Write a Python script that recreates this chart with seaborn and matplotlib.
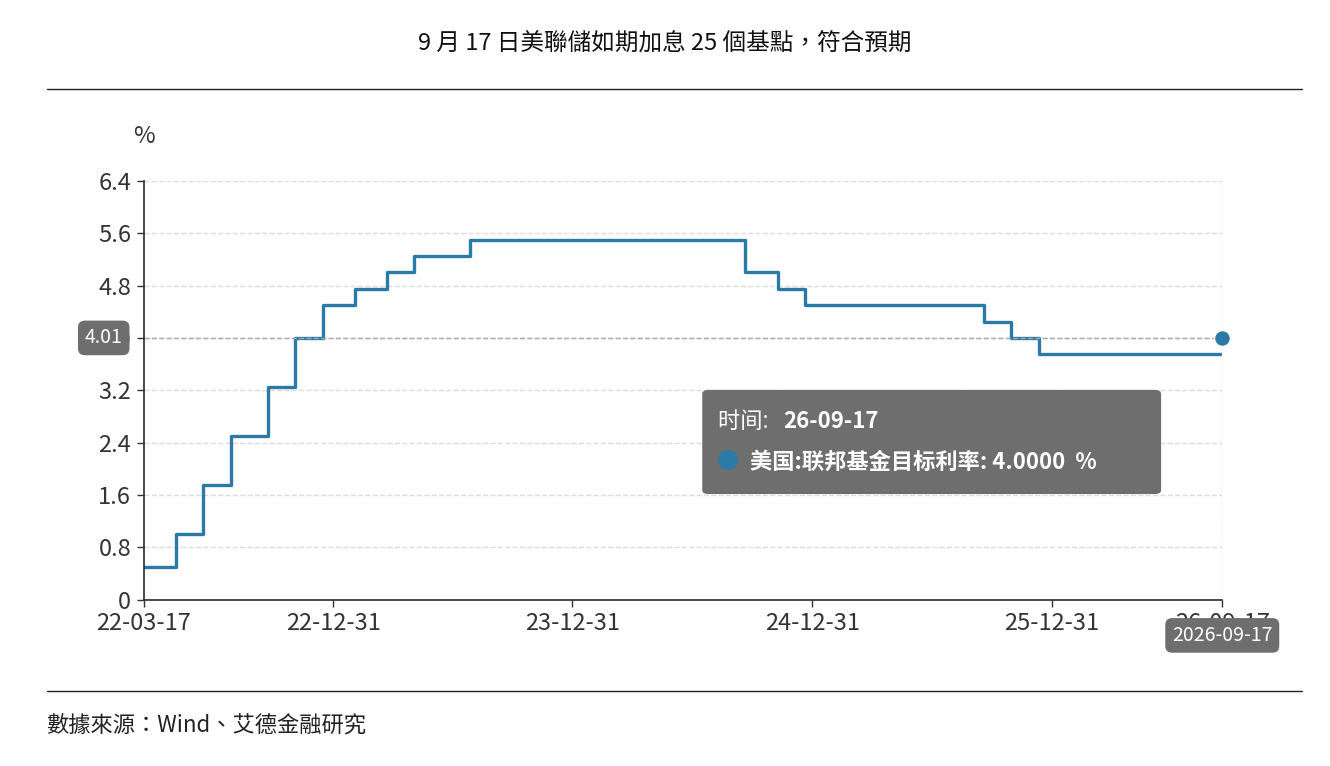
import matplotlib
matplotlib.use("Agg")
import matplotlib.pyplot as plt
import seaborn as sns
import pandas as pd

dates = ["2022-03-17","2022-05-05","2022-06-16","2022-07-28","2022-09-22","2022-11-03",
         "2022-12-15","2023-02-02","2023-03-23","2023-05-04","2023-07-27","2024-09-19",
         "2024-11-08","2024-12-19","2025-09-18","2025-10-30","2025-12-11","2026-09-17"]
rates = [0.50,1.00,1.75,2.50,3.25,4.00,4.50,4.75,5.00,5.25,5.50,5.00,4.75,4.50,4.25,4.00,3.75,3.75]
tick_dates = ["2022-03-17","2022-12-31","2023-12-31","2024-12-31","2025-12-31","2026-09-17"]
tick_labels = ["22-03-17","22-12-31","23-12-31","24-12-31","25-12-31","26-09-17"]
yticks = [0,0.8,1.6,2.4,3.2,4.0,4.8,5.6,6.4]
ylabels = ["0","0.8","1.6","2.4","3.2","4.0","4.8","5.6","6.4"]
hover_date = "2026-09-17"
hover_val = 4.0

sns.set_theme(style="white")
plt.rcParams['font.family'] = ['Noto Sans CJK TC', 'DejaVu Sans']

df = pd.DataFrame({"date": pd.to_datetime(dates), "rate": rates})
fig = plt.figure(figsize=(13.3, 7.66), dpi=100)
ax = fig.add_axes([0.108, 0.217, 0.811, 0.547])
sns.lineplot(data=df, x="date", y="rate", ax=ax, color="#2a7aa5", linewidth=2.4,
             drawstyle="steps-post")
hd = pd.to_datetime(hover_date)
ax.scatter([hd], [hover_val], s=130, color="#2a7aa5", edgecolor="white", zorder=5, clip_on=False)
ax.axhline(hover_val, color="#aaaaaa", lw=1, ls="--")
ax.axvline(hd, color="#cccccc", lw=1, ls="--")

ax.set_xlim(pd.to_datetime(dates[0]), pd.to_datetime(dates[-1]))
ax.set_ylim(0, 6.4)
ax.set_yticks(yticks)
ax.set_yticklabels(ylabels, fontsize=17, color="#333333")
ax.set_xticks(pd.to_datetime(tick_dates))
ax.set_xticklabels(tick_labels, fontsize=17, color="#333333")
ax.tick_params(axis="both", length=5, width=1, color="#333333", direction="out", left=True, bottom=True, pad=4)
ax.yaxis.grid(True, ls="--", color="#dddddd", lw=1)
ax.set_xlabel(""); ax.set_ylabel("")
for s in ["top", "right"]:
    ax.spines[s].set_visible(False)
for s in ["left", "bottom"]:
    ax.spines[s].set_color("#333333")
ax.text(0.0, 1.09, "%", transform=ax.transAxes, fontsize=17, color="#333333", ha="center")

# highlighted axis labels (covering the tick labels beneath, as in the reference)
ax.text(-0.037, hover_val, "4.01", transform=ax.get_yaxis_transform(), ha="center", va="center",
        fontsize=14, color="white", zorder=10,
        bbox=dict(boxstyle="round,pad=0.35", fc="#6e6e6e", ec="none"))
ax.text(hd, -0.085, "2026-09-17", transform=ax.get_xaxis_transform(), ha="center", va="center",
        fontsize=14, color="white", zorder=10,
        bbox=dict(boxstyle="round,pad=0.35", fc="#6e6e6e", ec="none"))

# tooltip
fig.patches.append(matplotlib.patches.FancyBboxPatch((0.528, 0.355), 0.345, 0.136,
    boxstyle="round,pad=0,rounding_size=0.005", transform=fig.transFigure, fc="#6e6e6e", ec="none"))
fig.text(0.540, 0.450, "时间: ", fontsize=16, color="white", va="center")
fig.text(0.589, 0.450, "26-09-17", fontsize=16, color="white", va="center", weight="bold")
fig.text(0.547, 0.397, "●", fontsize=16, color="#2a7aa5", va="center", ha="center")
fig.text(0.564, 0.397, "美国:联邦基金目标利率: 4.0000  %", fontsize=16, color="white", va="center", weight="bold")

fig.text(0.5, 0.934, "9 月 17 日美聯儲如期加息 25 個基點，符合預期", ha="center", fontsize=17, color="#111111")
fig.add_artist(matplotlib.lines.Line2D([0.035, 0.979], [0.884, 0.884], color="#222222", lw=1))
fig.add_artist(matplotlib.lines.Line2D([0.035, 0.979], [0.098, 0.098], color="#222222", lw=1))
fig.text(0.035, 0.045, "數據來源：Wind、艾德金融研究", fontsize=16, style="italic", color="#222222")

fig.savefig("out.png", dpi=100, facecolor="white")
